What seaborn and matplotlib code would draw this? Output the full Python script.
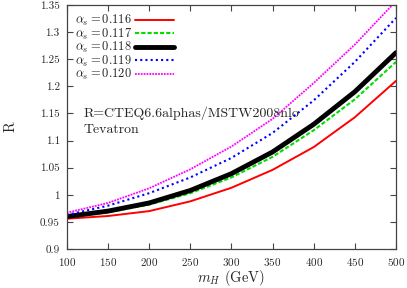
import matplotlib
matplotlib.use("Agg")
import matplotlib.pyplot as plt
import seaborn as sns
import pandas as pd

mH = [100, 150, 200, 250, 300, 350, 400, 450, 500]
r_0116 = [0.956, 0.961, 0.970, 0.988, 1.013, 1.046, 1.088, 1.143, 1.210]
r_0117 = [0.959, 0.968, 0.982, 1.003, 1.032, 1.070, 1.119, 1.176, 1.245]
r_0118 = [0.960, 0.970, 0.985, 1.008, 1.039, 1.079, 1.130, 1.190, 1.262]
r_0119 = [0.963, 0.980, 1.003, 1.032, 1.068, 1.114, 1.174, 1.245, 1.326]
r_0120 = [0.967, 0.985, 1.012, 1.047, 1.089, 1.140, 1.206, 1.277, 1.357]
labels = [r"$\alpha_s = 0.116$", r"$\alpha_s = 0.117$", r"$\alpha_s = 0.118$",
          r"$\alpha_s = 0.119$", r"$\alpha_s = 0.120$"]
series = [r_0116, r_0117, r_0118, r_0119, r_0120]
xticks = [100, 150, 200, 250, 300, 350, 400, 450, 500]
yticks = [0.9, 0.95, 1.0, 1.05, 1.1, 1.15, 1.2, 1.25, 1.3, 1.35]
ytick_labels = ["0.9", "0.95", "1", "1.05", "1.1", "1.15", "1.2", "1.25", "1.3", "1.35"]

sns.set_style("ticks")
plt.rcParams["font.family"] = ["cmr10", "DejaVu Serif"]
plt.rcParams["mathtext.fontset"] = "cm"
plt.rcParams["axes.formatter.use_mathtext"] = True

colors = ["#ff0000", "#00dd00", "#000000", "#0000ff", "#ff00ff"]
styles = ["-", (0, (2.0, 1.0)), "-", (0, (1.0, 1.5)), (0, (1.0, 0.6))]
widths = [1.4, 1.5, 3.5, 1.5, 1.3]

fig = plt.figure(figsize=(4.07, 2.88), dpi=100)
ax = fig.add_axes([0.164, 0.135, 0.809, 0.848])

for lab, vals, c, ls, lw in zip(labels, series, colors, styles, widths):
    df = pd.DataFrame({"mH": mH, "R": vals})
    sns.lineplot(data=df, x="mH", y="R", ax=ax, color=c, linestyle=ls,
                 linewidth=lw, label=lab)

ax.set_xlim(100, 500)
ax.set_ylim(0.9, 1.35)
ax.set_xticks(xticks)
ax.set_yticks(yticks)
ax.set_yticklabels(ytick_labels)
ax.tick_params(direction="in", top=True, right=True, length=4, width=0.8,
               labelsize=8, color="#444444", pad=5)
for s in ax.spines.values():
    s.set_color("#444444")
    s.set_linewidth(0.9)

ax.set_xlabel(r"$m_H$ (GeV)", fontsize=10.5, va="center")
ax.xaxis.set_label_coords(0.5, -0.118)
ax.set_ylabel("R", fontsize=10.5, va="center")
ax.yaxis.set_label_coords(-0.17, 0.5)

leg = ax.legend(loc="upper left", markerfirst=False, frameon=False, fontsize=9,
                handlelength=3.1, handletextpad=0.25, labelspacing=-0.13,
                borderaxespad=0.25, bbox_to_anchor=(0.0, 1.0))
for t in leg.get_texts():
    t.set_ha("right")

ax.text(0.05, 0.555, "R=CTEQ6.6alphas/MSTW2008nlo", transform=ax.transAxes,
        fontsize=10, va="center", ha="left")
ax.text(0.05, 0.488, "Tevatron", transform=ax.transAxes,
        fontsize=10, va="center", ha="left")

fig.savefig("out.png", dpi=100)
